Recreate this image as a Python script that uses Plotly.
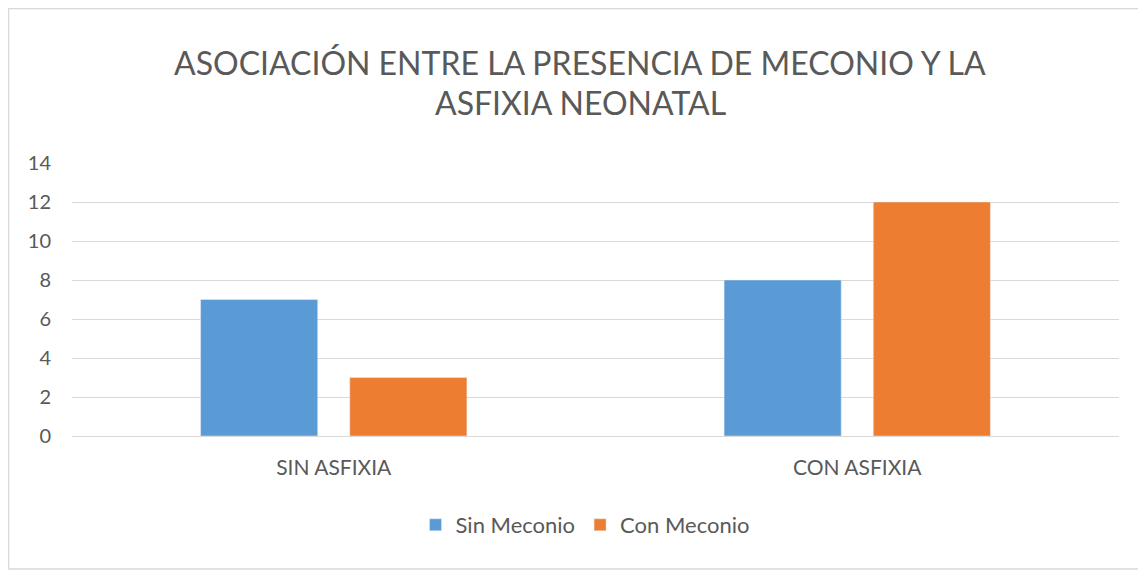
import plotly.graph_objects as go

categories = ["SIN ASFIXIA", "CON ASFIXIA"]
sin_meconio = [7, 8]
con_meconio = [3, 12]
y_ticks = [0, 2, 4, 6, 8, 10, 12, 14]

TEXT = "#595959"
FONT = "Lato, 'Open Sans', sans-serif"

# page body has an 8px margin, so the figure is sized to fit inside it
W, H = 1138, 563
L, R, T, B = 64, 27, 155, 135
pw, ph = W - L - R, H - T - B

fig = go.Figure()
fig.add_trace(go.Bar(name="Sin Meconio", x=categories, y=sin_meconio, marker_color="#5b9bd5"))
fig.add_trace(go.Bar(name="Con Meconio", x=categories, y=con_meconio, marker_color="#ed7d31"))

fig.update_layout(
    width=W, height=H,
    barmode="group", bargap=0.43, bargroupgap=0.215,
    plot_bgcolor="white", paper_bgcolor="white",
    font=dict(family=FONT, color=TEXT, size=20),
    margin=dict(l=L, r=R, t=T, b=B, autoexpand=False),
    xaxis=dict(showgrid=False, showline=False, ticks="", ticklabelstandoff=17,
               tickfont=dict(size=21)),
    yaxis=dict(range=[0, 14], tickvals=y_ticks, showgrid=True, gridcolor="#d9d9d9", gridwidth=1,
               zeroline=True, zerolinecolor="#d9d9d9", zerolinewidth=1, ticks="",
               ticklabelstandoff=20, tickfont=dict(size=20)),
    legend=dict(orientation="h", x=0.49, xanchor="center", y=-(496 - T - ph) / ph,
                yanchor="top", font=dict(size=22, color=TEXT), itemwidth=30),
    shapes=[dict(type="rect", xref="paper", yref="paper",
                 x0=-(L - 0.5) / pw, x1=(W + 30 - L) / pw, y0=-(B - 2) / ph, y1=(T + ph - 0.5) / ph,
                 line=dict(color="#d9d9d9", width=1.5), fillcolor="rgba(0,0,0,0)", layer="below")],
    annotations=[
        dict(text="ASOCIACIÓN ENTRE LA PRESENCIA DE MECONIO Y LA", xref="paper", yref="paper",
             x=0.5 + (580 - 8 - L - pw / 2) / pw, y=(T + ph - 54) / ph, xanchor="center",
             yanchor="middle", showarrow=False, font=dict(size=32, color=TEXT, family=FONT)),
        dict(text="ASFIXIA NEONATAL", xref="paper", yref="paper",
             x=0.5 + (580 - 8 - L - pw / 2) / pw, y=(T + ph - 95) / ph, xanchor="center",
             yanchor="middle", showarrow=False, font=dict(size=32, color=TEXT, family=FONT)),
    ],
)

fig.write_html("out.html")
